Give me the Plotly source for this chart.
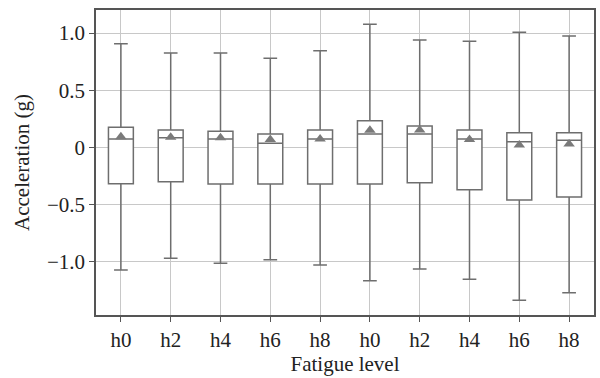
import plotly.graph_objects as go

labels = ["h0", "h2", "h4", "h6", "h8", "h0", "h2", "h4", "h6", "h8"]
upper = [0.906, 0.825, 0.825, 0.779, 0.845, 1.076, 0.939, 0.927, 1.006, 0.974]
q3 = [0.176, 0.153, 0.141, 0.118, 0.153, 0.234, 0.188, 0.153, 0.129, 0.129]
median = [0.074, 0.086, 0.074, 0.037, 0.074, 0.118, 0.118, 0.074, 0.051, 0.063]
q1 = [-0.316, -0.299, -0.318, -0.318, -0.318, -0.318, -0.307, -0.368, -0.459, -0.432]
lower = [-1.07, -0.968, -1.011, -0.98, -1.026, -1.163, -1.061, -1.151, -1.335, -1.268]
mean = [0.095, 0.09, 0.085, 0.07, 0.075, 0.15, 0.153, 0.07, 0.022, 0.031]

ytick_vals = [1.0, 0.5, 0, -0.5, -1.0]
ytick_text = ["1.0", "0.5", "0", "\u22120.5", "\u22121.0"]

pos = list(range(len(labels)))
FONT = "Liberation Serif, Times New Roman, serif"

fig = go.Figure()
fig.add_trace(go.Box(
    x=pos, q1=q1, median=median, q3=q3,
    lowerfence=lower, upperfence=upper,
    width=0.5, whiskerwidth=0.55,
    fillcolor="white",
    line=dict(color="#6e6e6e", width=1.5),
    boxpoints=False, showlegend=False, hoverinfo="skip",
))
fig.add_trace(go.Scatter(
    x=pos, y=mean, mode="markers",
    marker=dict(symbol="triangle-up", size=10, color="#7a7a7a"),
    showlegend=False, hoverinfo="skip",
))

fig.update_layout(
    width=600, height=378,
    margin=dict(l=96, r=4, t=10, b=63),
    paper_bgcolor="white", plot_bgcolor="white",
    font=dict(family=FONT, size=21, color="#222"),
)
fig.update_xaxes(
    range=[-0.5, 9.5], tickmode="array", tickvals=pos, ticktext=labels,
    showgrid=True, gridcolor="#c8c8c8", gridwidth=1,
    showline=True, linecolor="#555", linewidth=1.5, mirror=True,
    ticks="outside", ticklen=5, tickcolor="#555",
    title=dict(text="Fatigue level", font=dict(family=FONT, size=21), standoff=4),
    zeroline=False,
)
fig.update_yaxes(
    range=[-1.463, 1.201], tickmode="array", tickvals=ytick_vals, ticktext=ytick_text,
    showgrid=True, gridcolor="#c8c8c8", gridwidth=1,
    showline=True, linecolor="#555", linewidth=1.5, mirror=True,
    ticks="outside", ticklen=5, tickcolor="#555",
    title=dict(text="Acceleration (g)", font=dict(family=FONT, size=21), standoff=12),
    zeroline=False,
)

fig.write_html("out.html")
